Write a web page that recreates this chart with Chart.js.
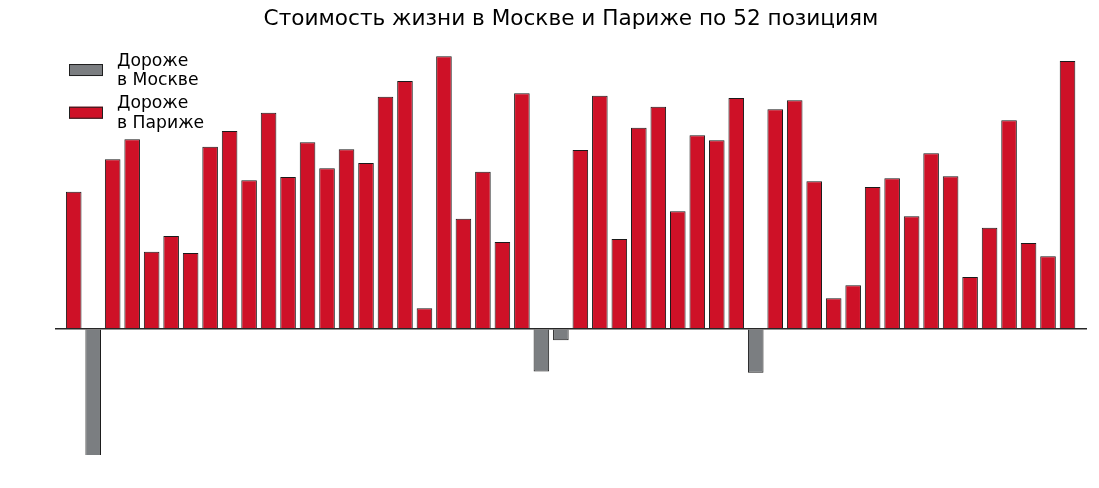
<!DOCTYPE html>
<html>
<head>
<meta charset="utf-8">
<script src="https://cdn.jsdelivr.net/npm/chart.js@4/dist/chart.umd.min.js"></script>
<style>
  html, body { margin: 0; padding: 0; background: #ffffff; }
  #wrap { width: 1099px; height: 488px; position: relative; }
</style>
</head>
<body>
<div id="wrap"><canvas id="c"></canvas></div>
<script>
// ---- data ----
const titleText = 'Стоимость жизни в Москве и Париже по 52 позициям';
const positions = Array.from({length: 52}, (_, i) => i + 1); // позиции 1..52
const values = [
  137.1, -135, 169.5, 189.5, 77.1, 92.8, 75.8, 182.1, 197.8, 148.5,
  216.1, 151.8, 186.5, 160.5, 179.5, 165.8, 232.1, 247.8, 20.5, 272.5,
  110.1, 157.1, 86.8, 235.5, -42.7, -11.5, 178.8, 233.1, 89.8, 201.1,
  222.1, 117.5, 193.5, 188.5, 230.8, -43.9, 219.5, 228.5, 147.5, 30.5,
  43.5, 141.8, 150.5, 112.5, 175.5, 152.5, 51.8, 101.1, 208.5, 85.8,
  72.5, 267.8
];
const seriesLabels = ['Дороже\nв Москве', 'Дороже\nв Париже'];
const seriesColors = ['#7b7e81', '#ce1127'];

Chart.defaults.font.family = "'DejaVu Sans', 'Noto Sans', sans-serif";
Chart.defaults.color = '#000000';

const moscowData = [];
const parisData = [];
positions.forEach((p, i) => {
  const v = values[i];
  if (v < 0) moscowData.push({x: i, y: v});
  else parisData.push({x: i, y: v});
});

const legendPlugin = {
  id: 'customLegend',
  afterDraw(chart) {
    const ctx = chart.ctx;
    const area = chart.chartArea;
    ctx.save();
    chart.data.datasets.forEach((ds, i) => {
      const top = area.top + 23 + i * 42.7;
      const left = area.left + 14;
      ctx.fillStyle = ds.backgroundColor;
      ctx.fillRect(left, top, 34, 12);
      ctx.strokeStyle = '#1f1f1f';
      ctx.lineWidth = 1;
      ctx.strokeRect(left + 0.5, top + 0.5, 33, 11);
      ctx.fillStyle = '#000000';
      ctx.font = "17.2px 'DejaVu Sans', sans-serif";
      ctx.textBaseline = 'alphabetic';
      ctx.textAlign = 'left';
      ds.label.split('\n').forEach((line, j) => {
        ctx.fillText(line, area.left + 62, top + 1.5 + j * 19.3);
      });
    });
    ctx.restore();
  }
};

new Chart(document.getElementById('c'), {
  type: 'bar',
  data: {
    datasets: [
      { label: seriesLabels[0], data: moscowData, backgroundColor: seriesColors[0],
        borderColor: '#1a1a1a', borderWidth: 1, grouped: false, clip: 0,
        barPercentage: 0.8, categoryPercentage: 1.0 },
      { label: seriesLabels[1], data: parisData, backgroundColor: seriesColors[1],
        borderColor: '#1a1a1a', borderWidth: 1, grouped: false, clip: 0,
        barPercentage: 0.8, categoryPercentage: 1.0 }
    ]
  },
  options: {
    responsive: true,
    maintainAspectRatio: false,
    animation: false,
    devicePixelRatio: 1,
    layout: { padding: { left: 55, right: 12, top: 0, bottom: 33 } },
    plugins: {
      legend: { display: false },
      tooltip: { enabled: false },
      title: {
        display: true,
        text: titleText,
        color: '#000000',
        font: { size: 21.6, weight: 'normal', family: "'DejaVu Sans', sans-serif", lineHeight: 1.2 },
        padding: { top: 6, bottom: 9.1 }
      }
    },
    scales: {
      x: {
        type: 'linear',
        min: -0.96,
        max: 52,
        display: false,
        offset: false
      },
      y: {
        min: -126.2,
        max: 287.8,
        display: true,
        ticks: { display: false },
        border: { display: false },
        afterBuildTicks: (s) => { s.ticks = [{ value: 0 }]; },
        grid: {
          drawTicks: false,
          color: '#262626',
          lineWidth: 1.5,
          z: 1
        }
      }
    }
  },
  plugins: [legendPlugin]
});
</script>
</body>
</html>
